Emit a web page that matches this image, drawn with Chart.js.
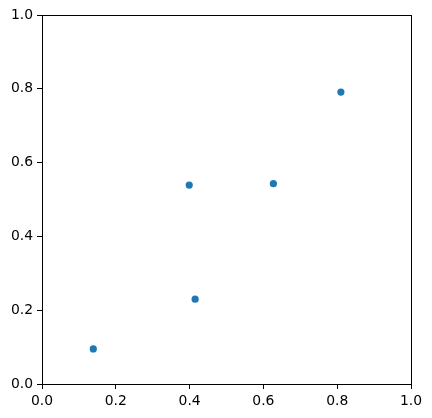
<!DOCTYPE html>
<html>
<head>
<meta charset="utf-8">
<script src="https://cdn.jsdelivr.net/npm/chart.js@4/dist/chart.umd.min.js"></script>
<style>
  html, body { margin: 0; padding: 0; background: #fff; }
  #chart { display: block; }
</style>
</head>
<body>
<canvas id="chart" width="432" height="418"></canvas>
<script>
// Point positions
const xValues = [0.139, 0.399, 0.415, 0.627, 0.810];
const yValues = [0.095, 0.539, 0.230, 0.543, 0.791];
const tickValues = [0, 0.2, 0.4, 0.6, 0.8, 1.0];

const points = xValues.map((x, i) => ({ x, y: yValues[i] }));

// draws the top/right spines so the axes make a closed box
const frame = {
  id: "frame",
  afterDraw(chart) {
    const { ctx, chartArea: a } = chart;
    ctx.save();
    ctx.strokeStyle = "#000";
    ctx.lineWidth = 1;
    ctx.strokeRect(a.left + 0.5, a.top + 0.5, a.right - a.left, a.bottom - a.top);
    ctx.restore();
  }
};

const tickFont = { family: "DejaVu Sans", size: 13.9 };

const axis = (fit) => ({
  type: "linear",
  min: 0,
  max: 1,
  afterBuildTicks: s => { s.ticks = tickValues.map(v => ({ value: v })); },
  afterFit: fit,
  ticks: {
    color: "#000",
    font: tickFont,
    padding: 4,
    callback: v => v.toFixed(1)
  },
  grid: {
    drawOnChartArea: false,
    drawTicks: true,
    tickLength: 5,
    color: "#000"
  },
  border: { display: true, color: "#000", width: 1 }
});

new Chart(document.getElementById("chart").getContext("2d"), {
  type: "scatter",
  data: {
    datasets: [{
      data: points,
      backgroundColor: "#1f77b4",
      borderColor: "#1f77b4",
      pointRadius: 3.6,
      pointHoverRadius: 3.6,
      borderWidth: 0
    }]
  },
  options: {
    responsive: false,
    animation: false,
    layout: { padding: { left: 0, top: 15, right: 21, bottom: 0 } },
    plugins: {
      legend: { display: false },
      tooltip: { enabled: false }
    },
    scales: {
      x: axis(s => { s.height = 34; }),
      y: axis(s => { s.width = 42; })
    }
  },
  plugins: [frame]
});
</script>
</body>
</html>
